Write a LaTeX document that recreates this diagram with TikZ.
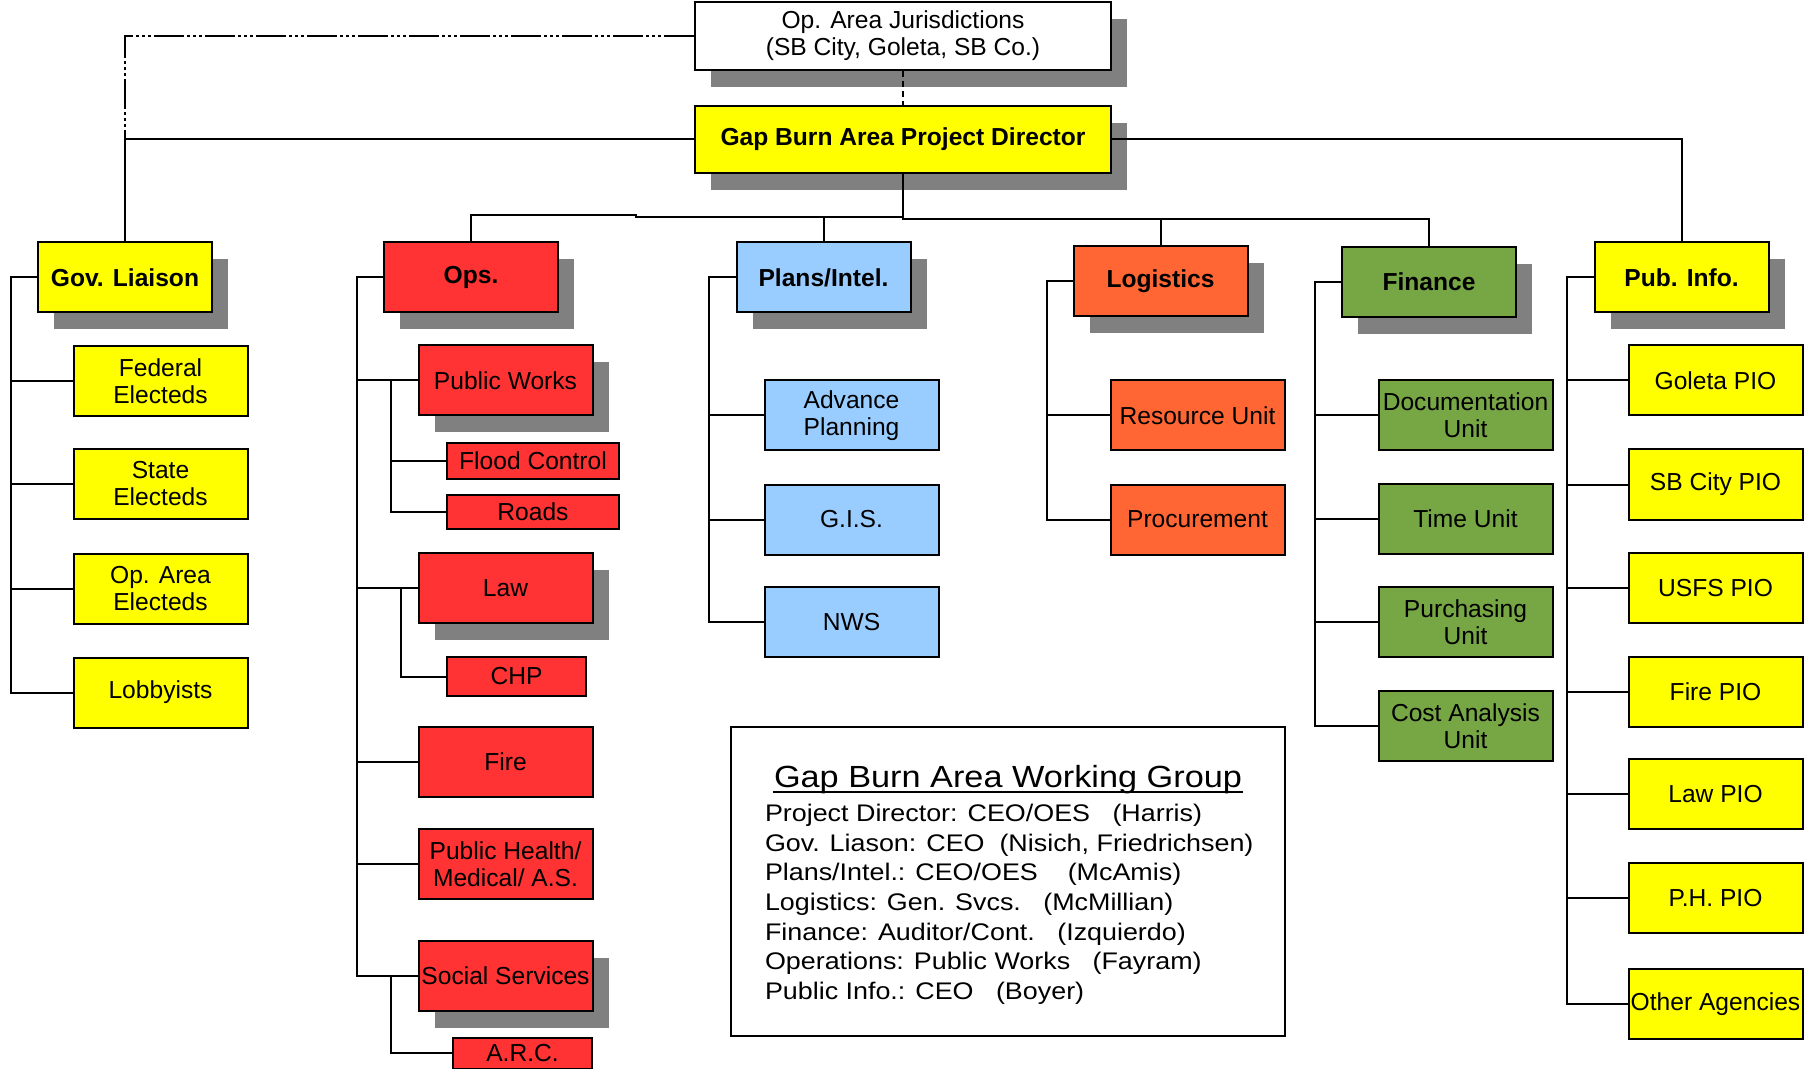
\documentclass[tikz,border=0pt]{standalone}
\usepackage{fontspec}
\setmainfont{Liberation Sans}
\newfontfamily\wgfont[FakeStretch=1.12]{Liberation Sans}
\usetikzlibrary{shadows}
\definecolor{jaune}{HTML}{FFFF00}
\definecolor{rouge}{HTML}{FF3333}
\definecolor{bleuclair}{HTML}{99CCFF}
\definecolor{orangef}{HTML}{FF6633}
\definecolor{vert}{HTML}{77A645}
\definecolor{gris}{HTML}{808080}
\begin{document}
\begin{tikzpicture}[x=0.5pt, y=-0.5pt, line width=1pt,
  boite/.style={draw, line width=1pt, minimum width=87pt, minimum height=35pt, inner sep=0.5pt, align=center, font=\fontsize{12.3}{13.5}\selectfont},
  chef/.style={boite, font=\fontsize{12.3}{13.5}\selectfont\bfseries},
  ombre/.style={drop shadow={shadow xshift=8pt, shadow yshift=-8.5pt, fill=gris, opacity=1}},
  tiret/.style={dash pattern=on 15pt off 1.5pt on 1.5pt off 1.5pt on 1.5pt off 1.5pt on 1.5pt off 1.5pt}]
\useasboundingbox (0,0) rectangle (1804,1069);
\node[boite, ombre, fill=white, minimum width=208pt, minimum height=34pt] (opa) at (903,36) {Op. Area Jurisdictions\\(SB City, Goleta, SB Co.)};
\node[chef, ombre, fill=jaune, minimum width=208pt, minimum height=33.5pt] (dir) at (903,139.5) {Gap Burn Area Project Director};
\node[chef, ombre, fill=jaune] (gov) at (125,277.5) {Gov. Liaison};
\node[chef, ombre, fill=rouge] (ops) at (471,277.5) {Ops.};
\node[chef, ombre, fill=bleuclair] (pla) at (823.5,277.5) {Plans/Intel.};
\node[chef, ombre, fill=orangef] (log) at (1160.5,281.5) {Logistics};
\node[chef, ombre, fill=vert] (fin) at (1429,282) {Finance};
\node[chef, ombre, fill=jaune] (pub) at (1681.5,277.5) {Pub. Info.};
% gov. liaison
\node[boite, fill=jaune] (fed) at (160.5,381) {Federal\\Electeds};
\node[boite, fill=jaune] (sta) at (160.5,484) {State\\Electeds};
\node[boite, fill=jaune] (ope) at (160.5,588.5) {Op. Area\\Electeds};
\node[boite, fill=jaune] (lob) at (160.5,692.5) {Lobbyists};
% ops
\node[boite, ombre, fill=rouge] (pw) at (505.5,380.5) {Public Works};
\node[boite, fill=rouge, minimum width=86pt, minimum height=18pt] (fc) at (533,461) {Flood Control};
\node[boite, fill=rouge, minimum width=86pt, minimum height=17pt] (rd) at (533,512) {Roads};
\node[boite, ombre, fill=rouge] (law) at (505.5,588) {Law};
\node[boite, fill=rouge, minimum width=69.5pt, minimum height=19.5pt] (chp) at (516.5,676.5) {CHP};
\node[boite, fill=rouge] (fire) at (505.5,761.5) {Fire};
\node[boite, fill=rouge] (ph) at (505.5,864) {Public Health/\\Medical/ A.S.};
\node[boite, ombre, fill=rouge] (soc) at (505.5,976) {Social Services};
\node[boite, fill=rouge, minimum width=69.5pt, minimum height=15.5pt] (arc) at (522.5,1053) {A.R.C.};
% plans
\node[boite, fill=bleuclair] (adv) at (851.5,415.5) {Advance\\Planning};
\node[boite, fill=bleuclair] (gis) at (851.5,519.5) {G.I.S.};
\node[boite, fill=bleuclair] (nws) at (851.5,622) {NWS};
% logistics
\node[boite, fill=orangef] (res) at (1197.5,415.5) {Resource Unit};
\node[boite, fill=orangef] (pro) at (1197.5,519.5) {Procurement};
% finance
\node[boite, fill=vert] (doc) at (1465.5,415.5) {Documentation\\Unit};
\node[boite, fill=vert] (tim) at (1465.5,519) {Time Unit};
\node[boite, fill=vert] (pur) at (1465.5,622) {Purchasing\\Unit};
\node[boite, fill=vert] (cos) at (1465.5,726) {Cost Analysis\\Unit};
% pub. info
\node[boite, fill=jaune] (gol) at (1715.5,380.5) {Goleta PIO};
\node[boite, fill=jaune] (sbc) at (1715.5,484.5) {SB City PIO};
\node[boite, fill=jaune] (usf) at (1715.5,588) {USFS PIO};
\node[boite, fill=jaune] (fpi) at (1715.5,692) {Fire PIO};
\node[boite, fill=jaune] (lpi) at (1715.5,794) {Law PIO};
\node[boite, fill=jaune] (hpi) at (1715.5,898) {P.H. PIO};
\node[boite, fill=jaune] (oth) at (1715.5,1004) {Other Agencies};
% upper links
\draw[tiret] (opa.west) -| (gov.north |- dir.west);
\draw (dir.west) -| (gov.north);
\draw[dash pattern=on 3pt off 2pt] (opa.south) -- (dir.north);
\draw (dir.east) -| (pub.north);
\coordinate (bus) at (903,219);
\coordinate (ja) at (636,217);
\draw (dir.south) -- (bus) -| (fin.north);
\draw (bus -| log.north) -- (log.north);
\draw (dir.south |- ja) -- (ja) -- ++(0,-2) -| (ops.north);
\draw (ja -| pla.north) -- (pla.north);
% branches
\coordinate (gv) at (11,0);
\coordinate (ov) at (357,0);
\coordinate (o1) at (391,0);
\coordinate (o2) at (401,0);
\coordinate (pv) at (709,0);
\coordinate (lv) at (1047,0);
\coordinate (fv) at (1315,0);
\coordinate (uv) at (1567,0);
\draw (gov.west) -| (gv |- lob.west) -- (lob.west);
\draw (gv |- fed.west) -- (fed.west);
\draw (gv |- sta.west) -- (sta.west);
\draw (gv |- ope.west) -- (ope.west);
\draw (ops.west) -| (ov |- soc.west) -- (soc.west);
\draw (ov |- pw.west) -- (pw.west);
\draw (ov |- law.west) -- (law.west);
\draw (ov |- fire.west) -- (fire.west);
\draw (ov |- ph.west) -- (ph.west);
\draw (o1 |- pw.west) |- (rd.west);
\draw (o1 |- fc.west) -- (fc.west);
\draw (o2 |- law.west) |- (chp.west);
\draw (o1 |- soc.west) |- (arc.west);
\draw (pla.west) -| (pv |- nws.west) -- (nws.west);
\draw (pv |- adv.west) -- (adv.west);
\draw (pv |- gis.west) -- (gis.west);
\draw (log.west) -| (lv |- pro.west) -- (pro.west);
\draw (lv |- res.west) -- (res.west);
\draw (fin.west) -| (fv |- cos.west) -- (cos.west);
\draw (fv |- doc.west) -- (doc.west);
\draw (fv |- tim.west) -- (tim.west);
\draw (fv |- pur.west) -- (pur.west);
\draw (pub.west) -| (uv |- oth.west) -- (oth.west);
\draw (uv |- gol.west) -- (gol.west);
\draw (uv |- sbc.west) -- (sbc.west);
\draw (uv |- usf.west) -- (usf.west);
\draw (uv |- fpi.west) -- (fpi.west);
\draw (uv |- lpi.west) -- (lpi.west);
\draw (uv |- hpi.west) -- (hpi.west);
% working group
\node[draw, line width=1pt, minimum width=277pt, minimum height=154.5pt] (wg) at (1008,881.5) {};
\node[anchor=base, inner sep=0, font=\wgfont\fontsize{15.3}{18}\selectfont] (titre) at (1008,787) {Gap Burn Area Working Group};
\draw[line width=0.7pt] ([yshift=-2.5pt]titre.base west) -- ([yshift=-2.5pt]titre.base east);
\node[anchor=north west, inner sep=0, align=left, font=\wgfont\fontsize{12}{14.85}\selectfont] (liste) at (764,803) {Project Director: CEO/OES\ \ \ (Harris)\\Gov. Liason: CEO\ \ (Nisich, Friedrichsen)\\Plans/Intel.: CEO/OES\ \ \ \ (McAmis)\\Logistics: Gen. Svcs.\ \ \ (McMillian)\\Finance: Auditor/Cont.\ \ \ (Izquierdo)\\Operations: Public Works\ \ \ (Fayram)\\Public Info.: CEO\ \ \ (Boyer)};
\end{tikzpicture}
\end{document}
